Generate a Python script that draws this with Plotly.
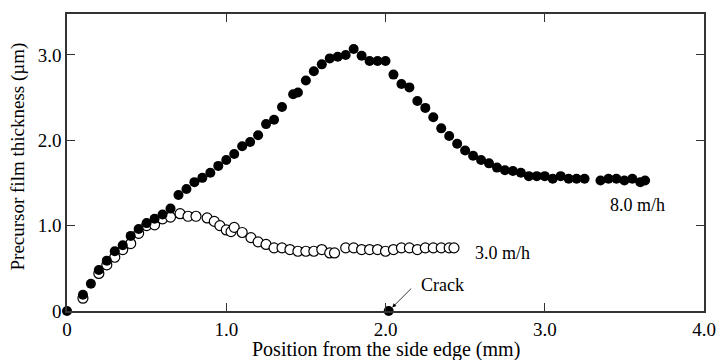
import plotly.graph_objects as go

# 8.0 m/h series (filled circles)
x_fast = [0.00, 0.10, 0.15, 0.20, 0.25, 0.30, 0.35, 0.40, 0.45, 0.50, 0.55, 0.60, 0.65,
          0.70, 0.75, 0.80, 0.85, 0.90, 0.95, 1.00, 1.05, 1.10, 1.15, 1.20, 1.25, 1.30,
          1.35, 1.42, 1.45, 1.50, 1.55, 1.60, 1.65, 1.70, 1.75, 1.80, 1.85, 1.90, 1.95,
          2.00, 2.05, 2.10, 2.15, 2.20, 2.25, 2.30, 2.35, 2.40, 2.45, 2.50, 2.55, 2.60,
          2.65, 2.70, 2.75, 2.80, 2.85, 2.90, 2.95, 3.00, 3.05, 3.10, 3.15, 3.20, 3.25,
          3.35, 3.40, 3.45, 3.50, 3.55, 3.60, 3.63]
y_fast = [0.00, 0.19, 0.32, 0.48, 0.59, 0.70, 0.77, 0.88, 0.96, 1.03, 1.08, 1.13, 1.20,
          1.36, 1.43, 1.51, 1.56, 1.62, 1.70, 1.77, 1.84, 1.93, 1.98, 2.06, 2.19, 2.24,
          2.39, 2.54, 2.56, 2.70, 2.81, 2.89, 2.96, 2.98, 3.00, 3.07, 2.99, 2.93, 2.93,
          2.93, 2.77, 2.66, 2.62, 2.46, 2.38, 2.27, 2.14, 2.05, 1.96, 1.88, 1.82, 1.77,
          1.73, 1.68, 1.65, 1.64, 1.62, 1.58, 1.58, 1.58, 1.55, 1.58, 1.55, 1.55, 1.55,
          1.53, 1.55, 1.55, 1.53, 1.55, 1.51, 1.53]

# 3.0 m/h series (open circles)
x_slow = [0.10, 0.20, 0.25, 0.30, 0.35, 0.40, 0.45, 0.50, 0.55, 0.60, 0.65, 0.71, 0.76,
          0.81, 0.88, 0.925, 0.96, 1.00, 1.03, 1.05, 1.10, 1.155, 1.20, 1.25, 1.30, 1.35,
          1.40, 1.45, 1.50, 1.55, 1.60, 1.65, 1.68, 1.75, 1.80, 1.85, 1.90, 1.95, 2.00,
          2.05, 2.10, 2.15, 2.20, 2.25, 2.30, 2.35, 2.40, 2.43]
y_slow = [0.15, 0.44, 0.54, 0.63, 0.72, 0.79, 0.91, 1.00, 1.01, 1.08, 1.10, 1.14, 1.11,
          1.11, 1.09, 1.05, 1.00, 0.95, 0.93, 0.98, 0.92, 0.86, 0.81, 0.78, 0.74, 0.74,
          0.72, 0.70, 0.70, 0.70, 0.72, 0.68, 0.68, 0.74, 0.74, 0.72, 0.72, 0.72, 0.70,
          0.72, 0.74, 0.74, 0.72, 0.74, 0.74, 0.74, 0.74, 0.74]

# crack location
x_crack = [2.02]
y_crack = [0.0]

x_ticks = [0, 1, 2, 3, 4]
x_ticklabels = ["0", "1.0", "2.0", "3.0", "4.0"]
y_ticks = [0, 1, 2, 3]
y_ticklabels = ["0", "1.0", "2.0", "3.0"]

x_title = "Position from the side edge (mm)"
y_title = "Precursor film thickness (µm)"

FONT = "Liberation Serif, Times New Roman, serif"

fig = go.Figure()
fig.add_trace(go.Scatter(
    x=x_slow, y=y_slow, mode="markers", cliponaxis=False,
    marker=dict(size=10, color="white", symbol="circle",
                line=dict(color="black", width=1.2)),
    showlegend=False))
fig.add_trace(go.Scatter(
    x=x_fast, y=y_fast, mode="markers", cliponaxis=False,
    marker=dict(size=10, color="black", line=dict(width=0)),
    showlegend=False))
fig.add_trace(go.Scatter(
    x=x_crack, y=y_crack, mode="markers", cliponaxis=False,
    marker=dict(size=10, color="black", line=dict(width=0)),
    showlegend=False))

fig.add_annotation(x=x_crack[0], y=y_crack[0], text="", showarrow=True,
                   ax=24, ay=-24, arrowhead=2, arrowsize=1, arrowwidth=0.8,
                   arrowcolor="black", standoff=5)
fig.add_annotation(x=2.355, y=0.31, text="Crack", showarrow=False,
                   font=dict(family=FONT, size=18, color="black"))
fig.add_annotation(x=3.395, y=1.24, text="8.0 m/h", showarrow=False, xanchor="left",
                   font=dict(family=FONT, size=18, color="black"))
fig.add_annotation(x=2.547, y=0.68, text="3.0 m/h", showarrow=False, xanchor="left",
                   font=dict(family=FONT, size=18, color="black"))

# axis titles
fig.add_annotation(xref="paper", yref="paper", x=0.5, y=-0.129, text=x_title,
                   showarrow=False, xanchor="center", yanchor="middle",
                   font=dict(family=FONT, size=20, color="black"))
fig.add_annotation(xref="paper", yref="paper", x=-0.077, y=0.52, text=y_title,
                   showarrow=False, xanchor="center", yanchor="middle", textangle=-90,
                   font=dict(family=FONT, size=19, color="black"))

axis_common = dict(
    showgrid=False, zeroline=False, showline=True, linecolor="#333333", linewidth=1.5,
    mirror="ticks", ticks="inside", ticklen=8, tickwidth=1, tickcolor="#333333",
    automargin=False,
)

fig.update_layout(
    width=719, height=360,
    margin=dict(l=67, r=15, t=14, b=49),
    paper_bgcolor="white", plot_bgcolor="white",
    xaxis=dict(range=[0, 4.0], tickvals=x_ticks, ticktext=x_ticklabels,
               tickfont=dict(family=FONT, size=19, color="black"),
               ticklabelstandoff=0, **axis_common),
    yaxis=dict(range=[0, 3.48], tickvals=y_ticks, ticktext=y_ticklabels,
               tickfont=dict(family=FONT, size=19, color="black"),
               **axis_common),
)

fig.write_html("out.html")
